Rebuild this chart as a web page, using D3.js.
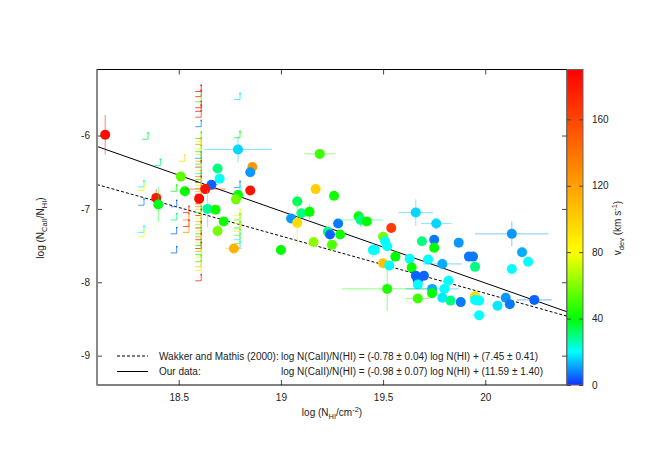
<html>
<head>
<meta charset="utf-8">
<title>CaII vs HI</title>
<style type="text/css">
  body { margin: 0; background: #fff; }
  text { font-family: "Liberation Sans", Arial, sans-serif; font-size: 10px; fill: #222; }
</style>
<script src="https://cdn.jsdelivr.net/npm/d3@7"></script>
</head>
<body>
<svg width="664" height="465"></svg>
<script>
// detections: log N(HI), log N(CaII)/N(HI), v_dev, errors
var ptX = [18.14,18.51,18.53,18.39,18.40,18.69,18.70,18.66,18.63,18.60,18.64,18.68,18.72,18.69,18.77,19.00,18.79,18.86,18.85,18.85,
           18.79,18.78,19.05,19.19,19.17,19.26,19.08,19.10,19.14,19.08,19.16,19.23,19.24,19.29,19.28,19.25,19.38,19.39,19.42,19.66,
           19.76,19.54,19.50,19.51,19.69,19.75,19.75,19.87,20.13,20.18,19.92,19.94,19.45,19.46,19.52,19.56,19.63,19.50,19.53,19.52,
           19.64,19.72,19.79,19.82,19.66,19.67,19.70,19.67,19.74,19.74,19.67,19.80,19.79,19.83,19.88,19.95,19.95,19.97,19.97,20.06,
           20.10,20.12,20.24,20.13,20.21,19.95];
var ptY = [-5.99,-6.56,-6.76,-6.85,-6.94,-6.45,-6.59,-6.67,-6.73,-6.86,-7.00,-7.01,-7.17,-7.30,-7.54,-7.56,-6.19,-6.43,-6.50,-6.75,
           -6.81,-6.87,-7.13,-6.25,-6.73,-6.82,-6.90,-7.06,-7.04,-7.19,-7.45,-7.31,-7.35,-7.35,-7.20,-7.49,-7.10,-7.15,-7.17,-7.05,
           -7.20,-7.26,-7.38,-7.44,-7.44,-7.42,-7.53,-7.46,-7.34,-7.59,-7.65,-7.65,-7.56,-7.56,-7.51,-7.65,-7.68,-7.74,-7.77,-8.09,
           -7.80,-7.69,-7.75,-7.98,-7.91,-7.98,-7.91,-8.03,-8.09,-8.15,-8.22,-8.09,-8.21,-8.25,-8.27,-8.19,-8.24,-8.25,-8.45,-8.32,
           -8.21,-8.30,-8.24,-7.82,-7.72,-7.79];
var ptV = [185,55,40,180,38,30,20,5,182,185,28,42,42,58,112,40,16,125,10,183,
           40,58,10,50,100,42,33,30,40,95,62,30,5,42,7,52,42,30,40,16,
           16,165,58,20,30,7,40,10,10,12,7,7,20,20,20,40,20,105,20,45,
           42,20,12,20,5,5,5,20,12,40,50,20,18,30,7,95,20,20,20,18,
           10,7,5,20,20,30];
var ptEx = [0,0,0,0,0,0,0,0.03,0.1,0,0,0,0,0,0.04,0,0.165,0,0,0,
            0,0,0,0.075,0,0,0,0,0,0,0,0,0,0,0,0,0,0.11,0,0.085,
            0.075,0,0,0,0,0,0,0,0.18,0,0,0,0,0,0,0,0,0,0,0.22,
            0,0,0.095,0,0,0,0,0,0.13,0,0.06,0,0,0,0,0,0,0,0.04,0,
            0,0,0.085,0,0,0];
var ptEy = [0.27,0,0,0.12,0.24,0,0,0.05,0,0,0.25,0,0,0.1,0,0,0.18,0,0,0,
            0.05,0,0,0.02,0.05,0,0.1,0,0.1,0.28,0,0.08,0,0,0,0,0,0.1,0,0.18,
            0.08,0,0,0,0,0,0,0,0.17,0,0,0,0.1,0,0,0,0,0,0,0.3,
            0,0,0.05,0,0,0,0,0,0.03,0,0,0,0,0,0,0,0,0,0,0,
            0,0,0.03,0,0,0];

// limits (upper limit in N(HI), lower limit in ratio)
var limX = [18.61,18.61,18.61,18.61,18.61,18.61,18.61,18.61,18.61,18.61,18.61,18.61,18.61,18.61,18.61,18.61,18.61,18.61,18.61,18.61,
            18.61,18.61,18.61,18.61,18.61,18.61,18.61,18.61,18.61,18.61,18.61,18.61,18.61,18.61,18.61,18.61,18.61,18.61,18.61,18.61,
            18.61,18.61,18.61,18.61,18.61,18.61,18.61,18.61,18.61,18.61,18.61,
            18.55,18.55,18.55,18.55,
            18.80,18.80,18.80,18.80,18.80,18.80,18.80,18.80,18.80,18.80,18.80,18.80,18.80,18.80,
            18.35,18.41,18.53,18.33,18.33,18.33,18.49,18.49,18.49,18.49,18.49,18.33,18.33];
var limY = [-5.40,-5.47,-5.54,-5.62,-5.67,-5.75,-5.88,-6.04,-6.08,-6.12,-6.18,-6.22,-6.26,-6.31,-6.35,-6.39,-6.43,-6.48,-6.52,-6.56,
            -6.60,-6.64,-6.68,-6.72,-6.76,-6.80,-6.85,-6.89,-6.93,-6.97,-7.01,-7.05,-7.09,-7.13,-7.17,-7.21,-7.26,-7.30,-7.34,-7.38,
            -7.42,-7.46,-7.50,-7.54,-7.58,-7.62,-7.66,-7.72,-7.79,-7.84,-7.98,
            -7.05,-7.15,-7.24,-7.32,
            -5.51,-6.03,-6.71,-6.78,-6.86,-7.09,-7.15,-7.20,-7.26,-7.31,-7.36,-7.42,-7.47,-7.53,
            -6.05,-6.41,-6.35,-6.70,-6.75,-6.95,-6.76,-6.97,-7.15,-7.34,-7.60,-7.32,-7.38];
var limV = [185,180,45,175,185,170,8,42,80,130,85,45,75,10,120,40,175,80,20,140,
            45,180,85,50,120,175,80,40,180,130,90,45,170,80,115,55,180,75,45,125,
            175,85,40,180,120,50,80,45,110,90,175,
            175,140,180,130,
            18,42,8,20,25,80,50,75,45,80,55,20,60,22,
            35,30,95,22,80,8,42,5,30,5,5,20,80];

// fits: slope, intercept
var fitNames = ["Wakker and Mathis (2000):", "Our data:"];
var fitText = ["log N(CaII)/N(HI) = (-0.78 \u00b1 0.04) log N(HI) + (7.45 \u00b1 0.41)",
               "log N(CaII)/N(HI) = (-0.98 \u00b1 0.07) log N(HI) + (11.59 \u00b1 1.40)"];
var fitSlope = [-0.78, -0.98];
var fitInter = [7.45, 11.59];
var fitDash = ["3,2", null];

var xTicks = [18.5, 19, 19.5, 20];
var yTicks = [-9, -8, -7, -6];
var cTicks = [0, 40, 80, 120, 160];
var cStops = [0, 20, 40, 80, 120, 190];
var cColors = ["#1030ff", "#00ffff", "#00ff00", "#ffff00", "#ffa000", "#ff0000"];

var svg = d3.select("svg");
var mLeft = 97, mRight = 567, mTop = 69.5, mBottom = 385;
var plain = function(d) { return String(d); };

var x = d3.scaleLinear().domain([18.1, 20.4]).range([mLeft, mRight]);
var y = d3.scaleLinear().domain([-9.4, -5.1]).range([mBottom, mTop]);
var color = d3.scaleLinear().domain(cStops).range(cColors);
var cy = d3.scaleLinear().domain([0, 190]).range([mBottom, mTop]);

var plot = svg.append("g");
plot.append("clipPath").attr("id", "clip")
    .append("rect").attr("x", mLeft).attr("y", mTop).attr("width", mRight - mLeft).attr("height", mBottom - mTop);
var inner = plot.append("g").attr("clip-path", "url(#clip)");

// fit lines
fitSlope.forEach(function(s, i) {
    var x0 = x.domain()[0], x1 = x.domain()[1];
    inner.append("line")
        .attr("x1", x(x0)).attr("y1", y(s * x0 + fitInter[i]))
        .attr("x2", x(x1)).attr("y2", y(s * x1 + fitInter[i]))
        .attr("stroke", "#000").attr("stroke-width", 1)
        .attr("stroke-dasharray", fitDash[i]);
});

// limit markers
limX.forEach(function(d, i) {
    var px = x(d), py = y(limY[i]);
    inner.append("path")
        .attr("d", "M" + (px - 6) + "," + py + "H" + px + "V" + (py - 6))
        .attr("fill", "none")
        .attr("stroke", color(limV[i]))
        .attr("stroke-width", 1)
        .attr("opacity", 0.75);
    inner.append("rect")
        .attr("x", px - 0.75).attr("y", py - 7).attr("width", 1.5).attr("height", 1.5)
        .attr("fill", color(limV[i]));
});

// detections with error bars
ptX.forEach(function(d, i) {
    var c = color(ptV[i]);
    var g = inner.append("g");
    if (ptEx[i] > 0) {
        g.append("line")
            .attr("x1", x(d - ptEx[i])).attr("x2", x(d + ptEx[i]))
            .attr("y1", y(ptY[i])).attr("y2", y(ptY[i]))
            .attr("stroke", c).attr("stroke-width", 1).attr("opacity", 0.5);
    }
    if (ptEy[i] > 0) {
        g.append("line")
            .attr("x1", x(d)).attr("x2", x(d))
            .attr("y1", y(ptY[i] - ptEy[i])).attr("y2", y(ptY[i] + ptEy[i]))
            .attr("stroke", c).attr("stroke-width", 1).attr("opacity", 0.5);
    }
    g.append("circle")
        .attr("cx", x(d)).attr("cy", y(ptY[i]))
        .attr("r", 5)
        .attr("fill", c);
});

// axes with inward ticks
function style(g) {
    g.select(".domain").remove();
    g.selectAll("line").attr("stroke", "#444");
    g.selectAll("text").attr("font-size", null).attr("font-family", null).attr("fill", "#222");
}
plot.append("g").attr("transform", "translate(0," + mBottom + ")")
    .call(d3.axisBottom(x).tickValues(xTicks).tickSize(-5).tickPadding(9).tickFormat(plain))
    .call(style);
plot.append("g").attr("transform", "translate(0," + mTop + ")")
    .call(d3.axisTop(x).tickValues(xTicks).tickSize(-5).tickFormat(""))
    .call(style);
plot.append("g").attr("transform", "translate(" + mLeft + ",0)")
    .call(d3.axisLeft(y).tickValues(yTicks).tickSize(-5).tickPadding(7).tickFormat(plain))
    .call(style);
plot.append("g").attr("transform", "translate(" + mRight + ",0)")
    .call(d3.axisRight(y).tickValues(yTicks).tickSize(-5).tickFormat(""))
    .call(style);

// border
plot.append("rect")
    .attr("x", mLeft).attr("y", mTop).attr("width", mRight - mLeft).attr("height", mBottom - mTop)
    .attr("fill", "none").attr("stroke", "#000").attr("stroke-width", 1);
plot.append("line")
    .attr("x1", mLeft).attr("x2", mLeft).attr("y1", mTop).attr("y2", mBottom)
    .attr("stroke", "#888").attr("stroke-width", 2);

// colour bar
var grad = svg.append("defs").append("linearGradient")
    .attr("id", "cbar").attr("x1", 0).attr("y1", 1).attr("x2", 0).attr("y2", 0);
cStops.forEach(function(v) {
    grad.append("stop").attr("offset", v / 190).attr("stop-color", color(v));
});
svg.append("rect")
    .attr("x", mRight).attr("y", mTop).attr("width", 16).attr("height", mBottom - mTop)
    .attr("fill", "url(#cbar)").attr("stroke", "#666").attr("stroke-width", 1);
svg.append("g").attr("transform", "translate(" + (mRight + 16) + ",0)")
    .call(d3.axisRight(cy).tickValues(cTicks).tickSize(-4).tickPadding(9).tickFormat(plain))
    .call(style);
svg.append("g").attr("transform", "translate(" + mRight + ",0)")
    .call(d3.axisLeft(cy).tickValues(cTicks).tickSize(-4).tickFormat(""))
    .call(style);

// legend
fitNames.forEach(function(n, i) {
    var ly = 356 + i * 15.5;
    svg.append("line")
        .attr("x1", 117).attr("x2", 148).attr("y1", ly).attr("y2", ly)
        .attr("stroke", "#000").attr("stroke-width", 1)
        .attr("stroke-dasharray", fitDash[i]);
    svg.append("text").attr("x", 159).attr("y", ly).attr("dy", "0.35em").text(n);
    svg.append("text").attr("x", 281).attr("y", ly).attr("dy", "0.35em").text(fitText[i]);
});

// axis titles
var xt = svg.append("text").attr("x", 332).attr("y", 416).attr("text-anchor", "middle");
xt.append("tspan").text("log (N");
xt.append("tspan").attr("dy", 3).attr("font-size", 7.5).text("HI");
xt.append("tspan").attr("dy", -3).text("/cm");
xt.append("tspan").attr("dy", -4).attr("font-size", 7.5).text("-2");
xt.append("tspan").attr("dy", 4).text(")");

var yt = svg.append("text").attr("transform", "translate(44,228) rotate(-90)").attr("text-anchor", "middle");
yt.append("tspan").text("log (N");
yt.append("tspan").attr("dy", 3).attr("font-size", 7.5).text("CaII");
yt.append("tspan").attr("dy", -3).text("/N");
yt.append("tspan").attr("dy", 3).attr("font-size", 7.5).text("HI");
yt.append("tspan").attr("dy", -3).text(")");

var ct = svg.append("text").attr("transform", "translate(621,228) rotate(-90)").attr("text-anchor", "middle");
ct.append("tspan").text("v");
ct.append("tspan").attr("dy", 3).attr("font-size", 7.5).text("dev");
ct.append("tspan").attr("dy", -3).text(" (km s");
ct.append("tspan").attr("dy", -4).attr("font-size", 7.5).text("-1");
ct.append("tspan").attr("dy", 4).text(")");
</script>
</body>
</html>
